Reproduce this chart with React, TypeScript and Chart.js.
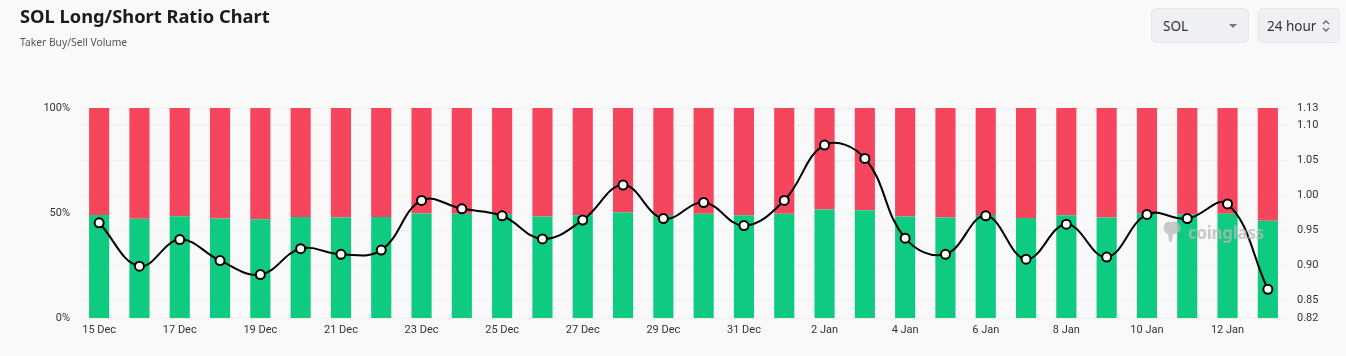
import React, { useEffect, useRef } from "react";
import { Chart, registerables } from "chart.js";

Chart.register(...registerables);

const categories = [
  "15 Dec", "16 Dec", "17 Dec", "18 Dec", "19 Dec", "20 Dec", "21 Dec", "22 Dec", "23 Dec", "24 Dec",
  "25 Dec", "26 Dec", "27 Dec", "28 Dec", "29 Dec", "30 Dec", "31 Dec", "1 Jan", "2 Jan", "3 Jan",
  "4 Jan", "5 Jan", "6 Jan", "7 Jan", "8 Jan", "9 Jan", "10 Jan", "11 Jan", "12 Jan", "13 Jan",
];

const longPct = [
  49.0, 47.3, 48.4, 47.4, 47.0, 48.1, 47.9, 48.1, 49.8, 49.7,
  49.4, 48.3, 48.9, 50.2, 49.0, 49.7, 48.9, 49.7, 51.7, 51.3,
  48.3, 47.8, 49.0, 47.6, 48.9, 47.8, 49.6, 49.4, 49.7, 46.3,
];

const shortPct = longPct.map((v) => +(100 - v).toFixed(1));

const ratio = [
  0.961, 0.899, 0.937, 0.907, 0.887, 0.924, 0.916, 0.922, 0.993, 0.981,
  0.971, 0.938, 0.965, 1.015, 0.967, 0.99, 0.957, 0.993, 1.072, 1.053,
  0.939, 0.916, 0.971, 0.909, 0.959, 0.912, 0.973, 0.967, 0.988, 0.866,
];

const rightTickValues = [0.825, 0.85, 0.9, 0.95, 1.0, 1.05, 1.1, 1.125];
const rightTickLabels = ["0.82", "0.85", "0.90", "0.95", "1.00", "1.05", "1.10", "1.13"];
const leftTickValues = [0, 50, 100];
const leftTickLabels = ["0%", "50%", "100%"];

const GREEN = "#0ECB81";
const RED = "#F6465D";
const FONT = "Roboto, 'Noto Sans', sans-serif";

export default function App() {
  const canvasRef = useRef<HTMLCanvasElement | null>(null);

  useEffect(() => {
    if (!canvasRef.current) return;
    const chart = new Chart(canvasRef.current, {
      type: "bar",
      data: {
        labels: categories,
        datasets: [
          {
            type: "line",
            label: "Long/Short Ratio",
            data: ratio,
            yAxisID: "y1",
            borderColor: "#000000",
            borderWidth: 2,
            tension: 0.4,
            pointRadius: 4.5,
            pointBackgroundColor: "#ffffff",
            pointBorderColor: "#000000",
            pointBorderWidth: 2,
            order: 0,
          } as any,
          {
            type: "bar",
            label: "Long",
            data: longPct,
            yAxisID: "y",
            backgroundColor: GREEN,
            barPercentage: 0.5,
            categoryPercentage: 1,
            stack: "s",
            order: 1,
          },
          {
            type: "bar",
            label: "Short",
            data: shortPct,
            yAxisID: "y",
            backgroundColor: RED,
            barPercentage: 0.5,
            categoryPercentage: 1,
            stack: "s",
            order: 1,
          },
        ],
      },
      options: {
        animation: false,
        responsive: false,
        maintainAspectRatio: false,
        layout: { padding: { top: 108, bottom: 10, left: 0, right: 0 } },
        plugins: { legend: { display: false }, tooltip: { enabled: false } },
        scales: {
          x: {
            stacked: true,
            grid: { display: false, drawTicks: false },
            border: { display: false },
            ticks: {
              autoSkip: false,
              maxRotation: 0,
              padding: 6,
              color: "#333",
              font: { family: FONT, size: 11 },
              callback: (_v: any, i: number) => (i % 2 === 0 ? categories[i] : ""),
            },
            afterFit: (s: any) => {
              s.height = 28;
            },
          },
          y: {
            stacked: true,
            position: "left",
            min: 0,
            max: 100,
            grid: { display: false, drawTicks: false },
            border: { display: false },
            afterBuildTicks: (s: any) => {
              s.ticks = leftTickValues.map((v) => ({ value: v }));
            },
            ticks: {
              padding: 9,
              color: "#333",
              font: { family: FONT, size: 11 },
              callback: (_v: any, i: number) => leftTickLabels[i],
            },
            afterFit: (s: any) => {
              s.width = 79;
            },
          },
          y1: {
            position: "right",
            min: 0.825,
            max: 1.125,
            grid: { display: true, drawTicks: false, color: "rgba(0,0,0,0.045)", lineWidth: 1 },
            border: { display: false },
            afterBuildTicks: (s: any) => {
              s.ticks = rightTickValues.map((v) => ({ value: v }));
            },
            ticks: {
              padding: 9,
              color: "#333",
              font: { family: FONT, size: 11 },
              callback: (_v: any, i: number) => rightTickLabels[i],
            },
            afterFit: (s: any) => {
              s.width = 58;
            },
          },
        },
      },
    });
    return () => chart.destroy();
  }, []);

  return (
    <div
      style={{
        position: "absolute",
        left: 0,
        top: 0,
        width: 1346,
        height: 356,
        background: "#f9f9f9",
        overflow: "hidden",
        fontFamily: "'Noto Sans', 'Open Sans', sans-serif",
      }}
    >
      <canvas
        ref={canvasRef}
        width={1346}
        height={356}
        style={{ position: "absolute", left: 0, top: 0, width: 1346, height: 356 }}
      />
      <div
        style={{
          position: "absolute",
          left: 20,
          top: 2,
          fontSize: 18.3,
          fontWeight: 700,
          color: "#1a1a1a",
          lineHeight: "28px",
          whiteSpace: "nowrap",
        }}
      >
        SOL Long/Short Ratio Chart
      </div>
      <div
        style={{
          position: "absolute",
          left: 20,
          top: 34,
          fontSize: 10.3,
          color: "#555",
          lineHeight: "16px",
          whiteSpace: "nowrap",
        }}
      >
        Taker Buy/Sell Volume
      </div>
      <div
        style={{
          position: "absolute",
          left: 1151,
          top: 8,
          width: 98,
          height: 35,
          boxSizing: "border-box",
          background: "#eef0f3",
          border: "1px solid #e4e7eb",
          borderRadius: 5,
          fontSize: 13.5,
          color: "#333",
        }}
      >
        <span style={{ position: "absolute", left: 11, top: 7, lineHeight: "20px" }}>SOL</span>
        <span
          style={{
            position: "absolute",
            left: 77,
            top: 15,
            width: 0,
            height: 0,
            borderLeft: "4px solid transparent",
            borderRight: "4px solid transparent",
            borderTop: "4px solid #777",
          }}
        />
      </div>
      <div
        style={{
          position: "absolute",
          left: 1258,
          top: 8,
          width: 82,
          height: 35,
          boxSizing: "border-box",
          background: "#eef0f3",
          border: "1px solid #e4e7eb",
          borderRadius: 5,
          fontSize: 13.5,
          color: "#333",
        }}
      >
        <span style={{ position: "absolute", left: 8, top: 7, lineHeight: "20px", whiteSpace: "nowrap" }}>24 hour</span>
        <svg
          width="10"
          height="14"
          viewBox="0 0 10 14"
          style={{ position: "absolute", left: 62, top: 10 }}
        >
          <path d="M2 5 L5 2 L8 5" stroke="#666" strokeWidth="1.3" fill="none" />
          <path d="M2 9 L5 12 L8 9" stroke="#666" strokeWidth="1.3" fill="none" />
        </svg>
      </div>
      <div
        style={{
          position: "absolute",
          left: 1161,
          top: 220,
          display: "flex",
          alignItems: "center",
          opacity: 0.75,
          pointerEvents: "none",
        }}
      >
        <svg width="22" height="24" viewBox="0 0 22 24">
          <path
            d="M3 6 C3 2 8 1 11 2 C15 1 19 3 19 7 C21 9 19 12 17 12 C16 14 14 14 12 14 L11 20 C11 23 8 23 8 20 L7 14 C4 13 2 10 3 6 Z"
            fill="#b8b8b8"
          />
        </svg>
        <span
          style={{
            marginLeft: 5,
            fontSize: 17,
            fontWeight: 700,
            color: "#b8b8b8",
            fontFamily: "'Noto Sans', sans-serif",
            letterSpacing: -0.3,
          }}
        >
          coinglass
        </span>
      </div>
    </div>
  );
}
